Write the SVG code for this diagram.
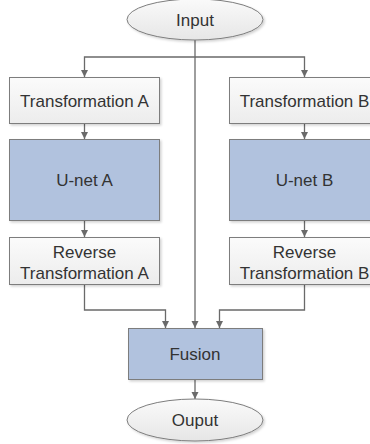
<svg xmlns="http://www.w3.org/2000/svg" width="370" height="444" viewBox="0 0 370 444">
<defs>
<linearGradient id="gw" x1="0" y1="0" x2="0" y2="1"><stop offset="0" stop-color="#fbfbfb"/><stop offset="1" stop-color="#ececec"/></linearGradient>
<linearGradient id="ge" x1="0" y1="0" x2="0" y2="1"><stop offset="0" stop-color="#fafafa"/><stop offset="1" stop-color="#e6e6e6"/></linearGradient>
<filter id="sh" x="-10%" y="-10%" width="130%" height="130%"><feDropShadow dx="1.5" dy="1.5" stdDeviation="1" flood-color="#000" flood-opacity="0.18"/></filter>
<marker id="ah" markerWidth="8" markerHeight="8" refX="7" refY="4" orient="auto" markerUnits="userSpaceOnUse"><path d="M0,0.5 L7,4 L0,7.5 Z" fill="#6a6a6a"/></marker>
</defs>
<style>
.w{fill:url(#gw);stroke:#7d7d7d;stroke-width:1;filter:url(#sh)}
.e{fill:url(#ge);stroke:#7d7d7d;stroke-width:1;filter:url(#sh)}
.b{fill:#b1c2de;stroke:#7d7d7d;stroke-width:1;filter:url(#sh)}
text{font-family:"Liberation Sans",Arial,sans-serif;font-size:17px;fill:#333;text-anchor:middle}
.c{fill:none;stroke:#6a6a6a;stroke-width:1.3;marker-end:url(#ah)}
</style>
<g id="connectors">
<path class="c" d="M195,40 V57 H84.5 V77"/>
<path class="c" d="M195,57 H304.5 V77"/>
<path class="c" d="M84.5,123 V139"/>
<path class="c" d="M304.5,123 V139"/>
<path class="c" d="M84.5,220 V237"/>
<path class="c" d="M304.5,220 V237"/>
<path class="c" d="M84.5,284 V310 H165.5 V328"/>
<path class="c" d="M304.5,284 V310 H219.5 V328"/>
<path class="c" d="M195,57 V328"/>
<path class="c" d="M195,379 V399"/>
</g>
<g id="input"><ellipse class="e" cx="195" cy="19.5" rx="68" ry="20.5"/><text x="195" y="25.5">Input</text></g>
<g id="transA"><rect class="w" x="9.5" y="77.5" width="150" height="46"/><text x="84.5" y="106.5">Transformation A</text></g>
<g id="transB"><rect class="w" x="229.5" y="77.5" width="150" height="46"/><text x="304.5" y="106.5">Transformation B</text></g>
<g id="unetA"><rect class="b" x="9.5" y="139.5" width="150" height="81"/><text x="84.5" y="186">U-net A</text></g>
<g id="unetB"><rect class="b" x="229.5" y="139.5" width="150" height="81"/><text x="304.5" y="186">U-net B</text></g>
<g id="revA"><rect class="w" x="9.5" y="237.5" width="150" height="47"/><text x="84.5" y="257.5">Reverse</text><text x="84.5" y="279">Transformation A</text></g>
<g id="revB"><rect class="w" x="229.5" y="237.5" width="150" height="47"/><text x="304.5" y="257.5">Reverse</text><text x="304.5" y="279">Transformation B</text></g>
<g id="fusion"><rect class="b" x="128.5" y="328.5" width="134" height="51"/><text x="195" y="359.5">Fusion</text></g>
<g id="output"><ellipse class="e" cx="195" cy="420" rx="68" ry="21"/><text x="195" y="426">Ouput</text></g>
</svg>
